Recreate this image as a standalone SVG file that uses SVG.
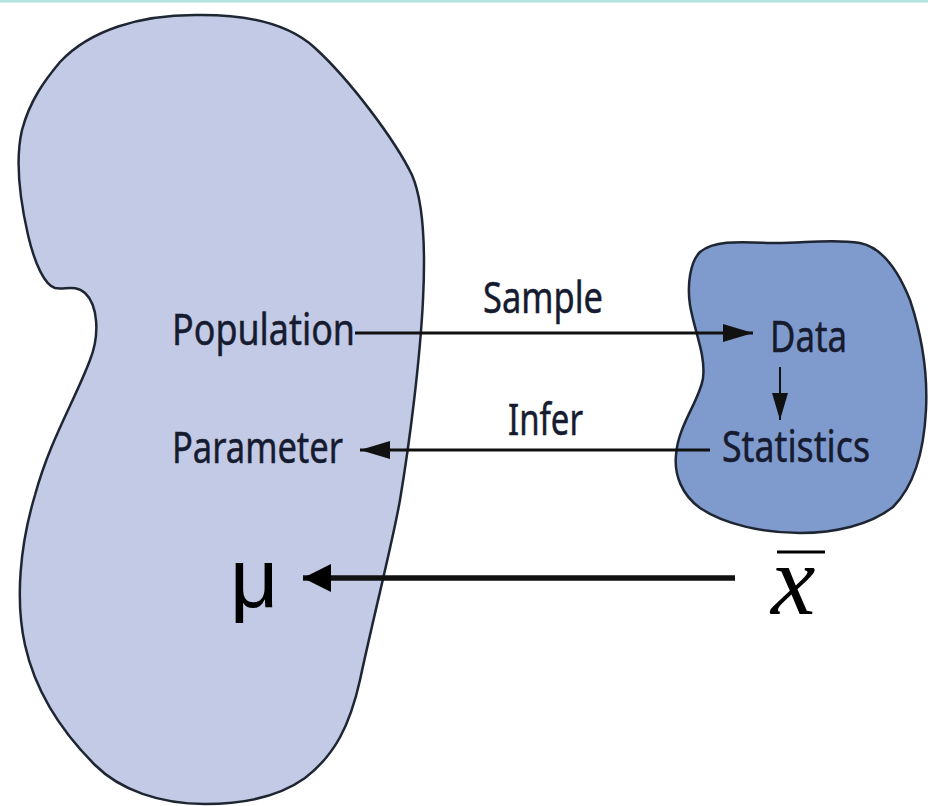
<svg xmlns="http://www.w3.org/2000/svg" width="928" height="806" viewBox="0 0 928 806">
<style>
.blob{stroke:#1f2633;stroke-width:2.5;stroke-linejoin:round}
.lbl{font-family:"Noto Sans","Open Sans",sans-serif;font-size:44px;fill:#161b30;stroke:#161b30;stroke-width:0.5}
.ln{stroke:#111;fill:none}
</style>
<defs>
<marker id="ah" viewBox="0 0 30 18" refX="30" refY="9" markerWidth="30" markerHeight="18" markerUnits="userSpaceOnUse" orient="auto">
<path d="M0,0 L30,9 L0,18 Z" fill="#111"/>
</marker>
<marker id="ahs" viewBox="0 0 16 27" refX="8" refY="27" markerWidth="16" markerHeight="27" markerUnits="userSpaceOnUse" orient="0">
<path d="M0,0 L8,27 L16,0 Z" fill="#111"/>
</marker>
<marker id="ahb" viewBox="0 0 28 28" refX="28" refY="14" markerWidth="28" markerHeight="28" markerUnits="userSpaceOnUse" orient="auto">
<path d="M0,0 L28,14 L0,28 Z" fill="#000"/>
</marker>
</defs>
<rect width="928" height="806" fill="#ffffff"/>
<rect x="0" y="0" width="928" height="2.5" fill="#b4e2e2"/>
<g id="population-blob">
<path class="blob" fill="#c3cae5" d="M195,15 C250,14 290,25 315,48 C350,80 395,140 412,175 C425,205 425,260 423,300 C420,360 410,440 400,500 C392,545 375,610 360,680 C350,725 335,755 305,778 C280,796 245,804 205,804 C160,804 120,790 95,765 C60,730 35,690 25,645 C15,600 20,545 35,495 C50,440 75,400 90,360 C100,335 98,305 85,293 C75,284 65,290 55,288 C45,285 35,265 28,235 C20,200 15,160 22,130 C30,100 45,80 60,62 C90,30 140,15 195,15 Z"/>
</g>
<g id="sample-blob">
<path class="blob" fill="#7f9acd" d="M700,252 C715,240 740,242 770,243 C800,244 830,238 860,243 C885,248 900,275 910,300 C920,330 928,370 926,410 C924,450 915,485 893,507 C870,525 835,533 800,533 C765,533 725,525 700,508 C682,495 674,475 676,455 C678,425 700,400 703,378 C706,355 694,330 690,305 C687,285 690,262 700,252 Z"/>
</g>
<g id="node-population"><text class="lbl" x="172" y="345" textLength="183" lengthAdjust="spacingAndGlyphs">Population</text></g>
<g id="node-parameter"><text class="lbl" x="172" y="463" textLength="171" lengthAdjust="spacingAndGlyphs">Parameter</text></g>
<g id="node-data"><text class="lbl" x="770" y="352" textLength="77" lengthAdjust="spacingAndGlyphs">Data</text></g>
<g id="node-statistics"><text class="lbl" x="722" y="462" textLength="148" lengthAdjust="spacingAndGlyphs">Statistics</text></g>
<g id="node-mu"><text x="230" y="607" font-family="Liberation Sans, Arial, sans-serif" font-size="84" fill="#000">μ</text></g>
<g id="node-xbar">
<text x="771" y="614" font-family="Liberation Serif, Times New Roman, serif" font-style="italic" font-size="100" fill="#000">x</text>
<line x1="777" y1="552" x2="825" y2="552" stroke="#000" stroke-width="3"/>
</g>
<g id="connectors">
<line class="ln" x1="355" y1="333" x2="753" y2="333" stroke-width="3" marker-end="url(#ah)"/>
<line class="ln" x1="780" y1="367" x2="780" y2="420" stroke-width="2" marker-end="url(#ahs)"/>
<line class="ln" x1="710" y1="450" x2="360" y2="450" stroke-width="3" marker-end="url(#ah)"/>
<line class="ln" x1="735" y1="578" x2="303" y2="578" stroke-width="5.5" marker-end="url(#ahb)"/>
<text class="lbl" x="483" y="313" textLength="120" lengthAdjust="spacingAndGlyphs">Sample</text>
<text class="lbl" x="508" y="435" textLength="75" lengthAdjust="spacingAndGlyphs">Infer</text>
</g>
</svg>
